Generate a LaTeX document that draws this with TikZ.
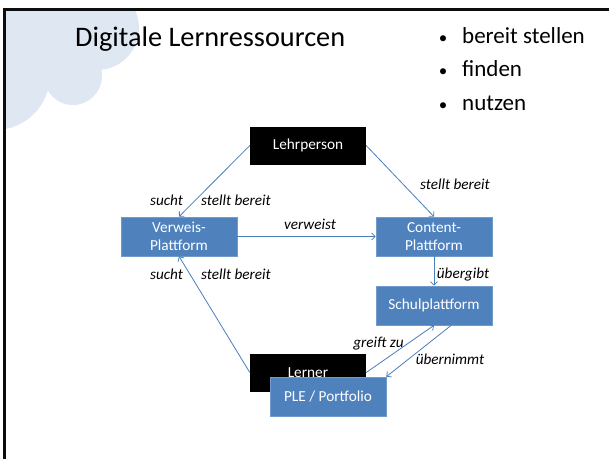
\documentclass[tikz,border=0pt]{standalone}
\usepackage{fontspec}
\setmainfont{Carlito}
\usetikzlibrary{arrows.meta}

\definecolor{boxblue}{HTML}{4F81BD}
\definecolor{linkblue}{HTML}{4A7EBB}
\definecolor{cloudblue}{HTML}{DEE7F2}

\tikzset{
  blackbox/.style={fill=black, text=white, minimum width=116pt, minimum height=38pt,
    inner sep=0pt, font=\fontsize{15.3}{18}\selectfont},
  bluebox/.style={fill=boxblue, draw=boxblue!80!white, line width=0.6pt, text=white,
    minimum width=116pt, minimum height=39pt, inner sep=0pt, align=center,
    font=\fontsize{15.3}{17.5}\selectfont},
  link/.style={draw=linkblue, line width=0.8pt, -{Straight Barb[length=3.5pt,width=7pt]}},
  linklabel/.style={font=\fontsize{15.2}{18}\selectfont\itshape, anchor=base, inner sep=0pt},
  bullet/.style={font=\fontsize{17}{20}\selectfont, anchor=base, inner sep=0pt},
  listitem/.style={font=\fontsize{23}{27}\selectfont, anchor=base west, inner sep=0pt}
}

\begin{document}
\begin{tikzpicture}[x=1pt,y=-1pt]
\useasboundingbox (0,0) rectangle (609,459);

% cloud in the corner
\begin{scope}
\clip (4,9) rectangle (200,200);
\fill [cloudblue] (-5,75) circle (55);
\fill [cloudblue] (73,76) circle (29);
\fill [cloudblue] (97,28) circle (42);
\fill [cloudblue] (0,0) -- (100,0) -- (100,60) -- (60,80) -- (40,95) -- (0,100) -- cycle;
\end{scope}

% slide frame
\draw [black!95, line width=2.5pt] (4.5,459) -- (4.5,9.5) -- (609,9.5);

% heading and list
\node [font=\fontsize{28.3}{32}\selectfont, anchor=base west, inner sep=0pt] (title) at (75,46) {Digitale Lernressourcen};
\node [bullet] (b1) at (443,43) {•};
\node [listitem] (t1) at (462,43) {bereit stellen};
\node [bullet] (b2) at (443,76) {•};
\node [listitem] (t2) at (462,76) {finden};
\node [bullet] (b3) at (443,110) {•};
\node [listitem] (t3) at (462,110) {nutzen};

% boxes
\node [blackbox] (lehrperson) at (308,145.5) {Lehrperson};
\node [bluebox] (verweis) at (179,236.5) {Verweis-\\Plattform};
\node [bluebox] (content) at (434,236.5) {Content-\\Plattform};
\node [bluebox] (schule) at (434,305.5) {Schulplattform};
\node [blackbox] (lerner) at (308,372.5) {Lerner};
\node [bluebox] (ple) at (328,396.5) {PLE / Portfolio};

% links
\draw [link] (lehrperson.west) -- (verweis.north);
\draw [link] (lehrperson.east) -- (content.north);
\draw [link] (verweis.east) -- (content.west);
\draw [link] (content.south) -- (schule.north);
\draw [link] (lerner.west) -- (verweis.south);
\draw [link] (lerner.east) -- (schule.south);
\draw [link] (schule.-49) -- (ple.north east);

% link labels
\node [linklabel] (l1) at (166.5,205) {sucht};
\node [linklabel] (l2) at (236,205) {stellt bereit};
\node [linklabel] (l3) at (455,189) {stellt bereit};
\node [linklabel] (l4) at (310,229) {verweist};
\node [linklabel] (l5) at (166.5,279) {sucht};
\node [linklabel] (l6) at (236,279) {stellt bereit};
\node [linklabel] (l7) at (463,278) {übergibt};
\node [linklabel] (l8) at (378.5,347) {greift zu};
\node [linklabel] (l9) at (450,364) {übernimmt};
\end{tikzpicture}
\end{document}
